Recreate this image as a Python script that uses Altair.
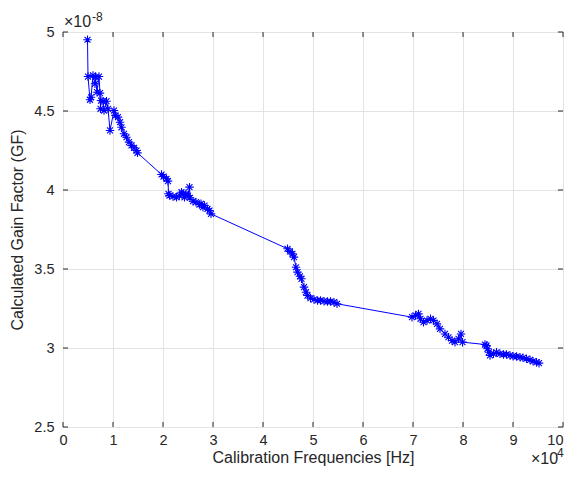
import altair as alt
import pandas as pd

# Calibration frequency (x 1e4 Hz) and calculated gain factor (x 1e-8)
freq_e4 = [
    0.49, 0.50, 0.54, 0.56, 0.60, 0.64, 0.65, 0.68, 0.72, 0.74, 0.75, 0.76, 0.80, 0.82,
    0.87, 0.90, 0.94, 1.02, 1.05, 1.10, 1.14, 1.17, 1.22, 1.27, 1.32, 1.37, 1.42, 1.47, 1.49,
    1.97, 2.01, 2.07, 2.10, 2.11, 2.13, 2.20, 2.27, 2.33, 2.37, 2.40, 2.43, 2.46, 2.50,
    2.53, 2.54, 2.60, 2.66, 2.73, 2.76, 2.80, 2.83, 2.89, 2.93, 2.96,
    4.49, 4.54, 4.59, 4.62, 4.66, 4.69, 4.74, 4.77, 4.82, 4.86, 4.89, 4.95, 5.02, 5.09,
    5.15, 5.22, 5.29, 5.35, 5.42, 5.48,
    6.98, 7.05, 7.11, 7.15, 7.21, 7.28, 7.35, 7.41, 7.48, 7.54, 7.64, 7.71, 7.78, 7.84,
    7.91, 7.96, 7.99,
    8.44, 8.47, 8.49, 8.52, 8.54, 8.61, 8.67, 8.74, 8.81, 8.87, 8.94, 9.00, 9.07, 9.14,
    9.20, 9.27, 9.34, 9.40, 9.47, 9.52,
]
gain_e8 = [
    4.951, 4.718, 4.571, 4.587, 4.725, 4.672, 4.714, 4.619, 4.718, 4.613, 4.514, 4.566, 4.562, 4.503,
    4.562, 4.514, 4.377, 4.503, 4.472, 4.461, 4.429, 4.397, 4.356, 4.334, 4.303, 4.282, 4.267, 4.250, 4.235,
    4.098, 4.085, 4.071, 4.056, 3.976, 3.965, 3.959, 3.954, 3.965, 3.986, 3.976, 3.954, 3.976, 3.965,
    4.018, 3.951, 3.929, 3.923, 3.908, 3.913, 3.891, 3.902, 3.881, 3.870, 3.849,
    3.628, 3.611, 3.596, 3.575, 3.511, 3.480, 3.454, 3.438, 3.385, 3.353, 3.332, 3.315, 3.307, 3.301,
    3.301, 3.296, 3.294, 3.294, 3.290, 3.280,
    3.195, 3.206, 3.216, 3.185, 3.163, 3.174, 3.185, 3.174, 3.153, 3.121, 3.089, 3.068, 3.047, 3.037,
    3.058, 3.089, 3.037,
    3.022, 3.016, 2.995, 2.973, 2.953, 2.963, 2.973, 2.963, 2.959, 2.959, 2.953, 2.948, 2.946, 2.942,
    2.938, 2.932, 2.925, 2.916, 2.910, 2.904,
]
x_ticks = [0, 1, 2, 3, 4, 5, 6, 7, 8, 9, 10]
y_ticks = [2.5, 3, 3.5, 4, 4.5, 5]

W, H = 500, 395
INK = "#262626"
FONT = "Liberation Sans"

df = pd.DataFrame({"f": freq_e4, "g": gain_e8, "order": range(len(freq_e4))})
xt = pd.DataFrame({"t": x_ticks})
yt = pd.DataFrame({"t": y_ticks})

xscale = alt.Scale(domain=[0, 10], nice=False, zero=False)
yscale = alt.Scale(domain=[2.5, 5], nice=False, zero=False)

xaxis = alt.Axis(values=x_ticks, labelExpr="datum.value + ''", title="Calibration Frequencies [Hz]",
                 grid=True, gridColor="#e3e3e3", tickSize=0, domain=False, labelPadding=6,
                 titlePadding=3, labelFontSize=14.5, titleFontSize=16, labelFont=FONT,
                 titleFont=FONT, labelColor=INK, titleColor=INK, titleFontWeight="normal",
                 labelFlush=False,
                 labelAlign={"condition": {"test": "datum.value == 10", "value": "right"},
                             "value": "center"})
yaxis = alt.Axis(values=y_ticks, labelExpr="datum.value + ''", title="Calculated Gain Factor (GF)",
                 grid=True, gridColor="#e3e3e3", tickSize=0, domain=False, labelPadding=9,
                 titlePadding=8, labelFontSize=14.5, titleFontSize=16, labelFont=FONT,
                 titleFont=FONT, labelColor=INK, titleColor=INK, titleFontWeight="normal",
                 labelFlush=False)

line = alt.Chart(df).mark_line(color="#0000ff", strokeWidth=1).encode(
    x=alt.X("f:Q", scale=xscale, axis=xaxis),
    y=alt.Y("g:Q", scale=yscale, axis=yaxis),
    order="order:Q",
)

asterisk = "M-1,0L1,0M0,-1L0,1M-0.7,-0.7L0.7,0.7M-0.7,0.7L0.7,-0.7"
pts = alt.Chart(df).mark_point(shape=asterisk, filled=False, color="#0000ff",
                               strokeWidth=1.1, size=72, opacity=1).encode(
    x=alt.X("f:Q", scale=xscale),
    y=alt.Y("g:Q", scale=yscale),
)

tick_len = 5
bt = alt.Chart(xt).mark_rule(color=INK, strokeWidth=1).encode(
    x=alt.X("t:Q", scale=xscale), y=alt.value(H), y2=alt.value(H - tick_len))
tt = alt.Chart(xt).mark_rule(color=INK, strokeWidth=1).encode(
    x=alt.X("t:Q", scale=xscale), y=alt.value(0), y2=alt.value(tick_len))
lt = alt.Chart(yt).mark_rule(color=INK, strokeWidth=1).encode(
    y=alt.Y("t:Q", scale=yscale), x=alt.value(0), x2=alt.value(tick_len))
rt = alt.Chart(yt).mark_rule(color=INK, strokeWidth=1).encode(
    y=alt.Y("t:Q", scale=yscale), x=alt.value(W), x2=alt.value(W - tick_len))

def label(txt, x, y, size, align="left"):
    return alt.Chart(pd.DataFrame({"s": [txt]})).mark_text(
        font=FONT, fontSize=size, color=INK, align=align, baseline="alphabetic"
    ).encode(text="s:N", x=alt.value(x), y=alt.value(y))

exp_y1 = label("\u00d710", 1, -5, 16)
exp_y2 = label("-8", 29, -11, 12)
exp_x1 = label("\u00d710", 468, H + 37, 16)
exp_x2 = label("4", 494, H + 30, 12)

chart = alt.layer(line, pts, bt, tt, lt, rt, exp_y1, exp_y2, exp_x1, exp_x2).properties(
    width=W, height=H,
    autosize=alt.AutoSizeParams(type="none"),
    padding={"left": 55, "top": 24, "right": 1, "bottom": 40},
).configure_view(stroke=INK, strokeWidth=1).configure(background="white")

chart.save("out.html", embed_options={"renderer": "svg", "actions": False})
